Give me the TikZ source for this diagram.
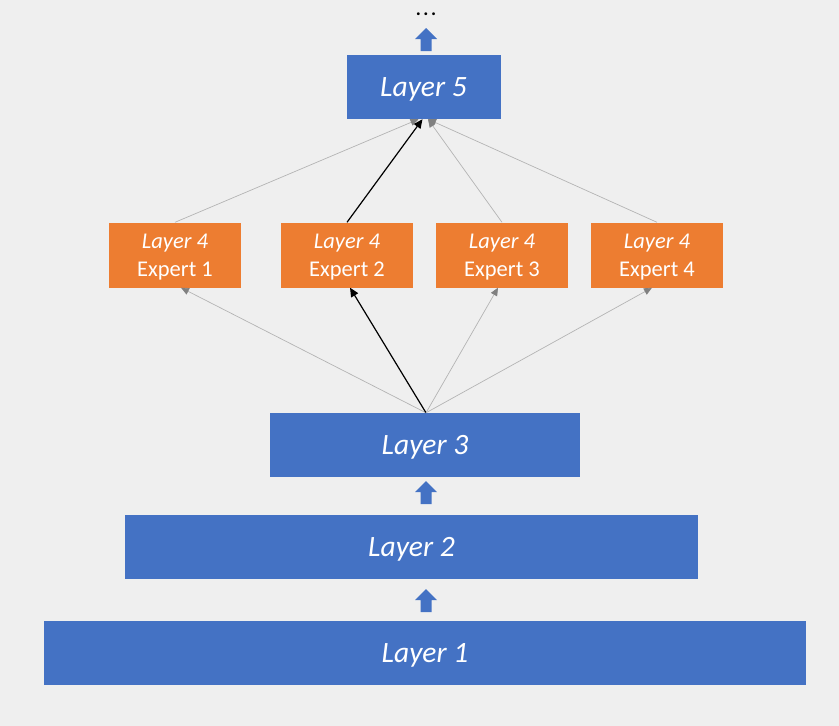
\documentclass[tikz,border=0pt]{standalone}
\usepackage{fontspec}
\setmainfont{Carlito}
\usetikzlibrary{arrows.meta,calc}
\definecolor{bgc}{HTML}{EFEFEF}
\definecolor{blu}{HTML}{4472C4}
\definecolor{orng}{HTML}{ED7D31}
\definecolor{lgray}{HTML}{B4B4B4}
\definecolor{tipgray}{HTML}{808080}
\tikzset{
  layer/.style={fill=blu, text=white, minimum height=64pt, inner sep=0pt, text depth=0pt, font=\fontsize{29.5}{34}\selectfont\itshape},
  expert/.style={fill=orng, text=white, minimum width=132pt, minimum height=65pt, inner sep=0pt, text depth=0pt, align=center, font=\fontsize{22.5}{28}\selectfont},
  thinarrow/.style={draw=lgray, line width=0.7pt, -{Triangle[length=8pt,width=7pt,color=tipgray]}},
  darkarrow/.style={draw=black, line width=1.2pt, -{Triangle[length=9pt,width=8pt]}},
  blockfill/.style={fill=blu}
}
\newcommand\blockarrow[1]{%
  \fill[blockfill] ($(#1)+(-5.5,0)$) -- ++(0,-12) -- ++(-5.5,0) -- ++(11,-11) -- ++(11,11) -- ++(-5.5,0) -- ++(0,12) -- cycle;}
\begin{document}
\begin{tikzpicture}[x=1pt,y=-1pt]
\fill[bgc] (0,0) rectangle (839,726);
\useasboundingbox (0,0) rectangle (839,726);

\node[layer, minimum width=154pt] (l5) at (423.5,87) {Layer 5};
\node[expert] (e1) at (175,255) {\textit{Layer 4}\\Expert 1};
\node[expert] (e2) at (347,255) {\textit{Layer 4}\\Expert 2};
\node[expert] (e3) at (502,255) {\textit{Layer 4}\\Expert 3};
\node[expert] (e4) at (657,255) {\textit{Layer 4}\\Expert 4};
\node[layer, minimum width=310pt] (l3) at (425,445) {Layer 3};
\node[layer, minimum width=573pt] (l2) at (411.5,547) {Layer 2};
\node[layer, minimum width=762pt] (l1) at (425,653) {Layer 1};
\node[font=\fontsize{19}{20}\selectfont\bfseries, anchor=base, inner sep=0pt, text height=4pt, text depth=0pt] (dots) at (426,15) {.\kern2.5pt.\kern2.5pt.};

\coordinate (a0) at (426,51);
\coordinate (a1) at (426,504);
\coordinate (a2) at (426,612);
\blockarrow{a0}
\blockarrow{a1}
\blockarrow{a2}

\coordinate (src) at ($(l3.north)+(1,0)$);
\draw[thinarrow] (src) -- ($(e1.south)+(6,0)$);
\draw[darkarrow] (src) -- ($(e2.south)+(3,0)$);
\draw[thinarrow] (src) -- ($(e3.south)+(-4,0)$);
\draw[thinarrow] (src) -- ($(e4.south)+(-5,0)$);

\draw[thinarrow] (e1.north) -- ($(l5.south)+(-5,0)$);
\draw[thinarrow] (e3.north) -- ($(l5.south)+(4.5,0)$);
\draw[thinarrow] (e4.north) -- ($(l5.south)+(4.5,0)$);
\draw[darkarrow] (e2.north) -- ($(l5.south)+(-1,0)$);
\end{tikzpicture}
\end{document}
